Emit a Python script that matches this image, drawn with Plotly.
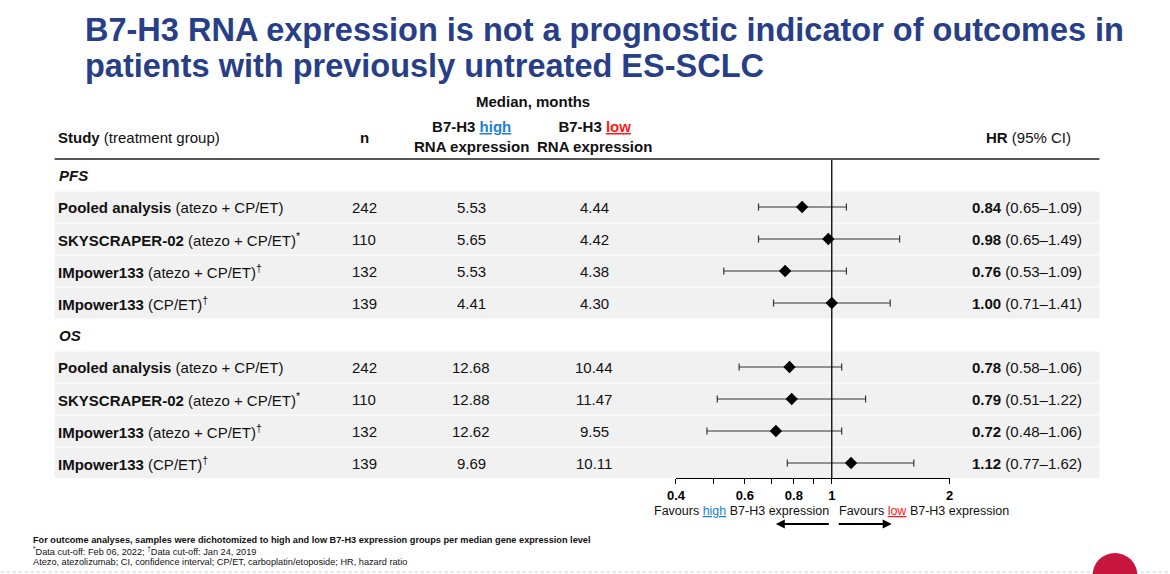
import numpy as np
import plotly.graph_objects as go

W, H = 1170, 574

# table / forest data
studies = ["Pooled analysis", "SKYSCRAPER-02", "IMpower133", "IMpower133"]
groups = ["(atezo + CP/ET)", "(atezo + CP/ET)<sup>*</sup>",
          "(atezo + CP/ET)<sup>†</sup>", "(CP/ET)<sup>†</sup>"]
n_pts = [242, 110, 132, 139]

pfs_high = [5.53, 5.65, 5.53, 4.41]
pfs_low = [4.44, 4.42, 4.38, 4.30]
pfs_hr = [0.84, 0.98, 0.76, 1.00]
pfs_ci_lo = [0.65, 0.65, 0.53, 0.71]
pfs_ci_hi = [1.09, 1.49, 1.09, 1.41]

os_high = [12.68, 12.88, 12.62, 9.69]
os_low = [10.44, 11.47, 9.55, 10.11]
os_hr = [0.78, 0.79, 0.72, 1.12]
os_ci_lo = [0.58, 0.51, 0.48, 0.77]
os_ci_hi = [1.06, 1.22, 1.06, 1.62]

tick_vals = [0.4, 0.6, 0.8, 1, 2]
tick_text = ["<b>0.4</b>", "<b>0.6</b>", "<b>0.8</b>", "<b>1</b>", "<b>2</b>"]
minor_vals = [0.5, 0.7, 0.9]

sections = [("PFS", pfs_high, pfs_low, pfs_hr, pfs_ci_lo, pfs_ci_hi),
            ("OS", os_high, os_low, os_hr, os_ci_lo, os_ci_hi)]

FONT = "Arial, 'Liberation Sans', sans-serif"
NAVY = "#283f88"
BLUE = "#1f7fd4"
RED = "#ff1a1a"

# the screenshot comes out slightly squeezed / shifted sideways, undo that
OX, SX = 8.3, 0.99


def px(x):
    return (x - OX) / SX / W


def py(y):
    return 1 - y / H


# row geometry (pixels) -> y axis in row units
row0_px, row_step = 175, 32
axis_px = 478
y_bottom = (axis_px - row0_px) / row_step
y_top = (0 - row0_px) / row_step

fig = go.Figure()
shapes = []
ann = []


def text(x, y, s, size=15, anchor="left", yref="y", color="#111", **kw):
    ann.append(dict(x=x, y=y, xref="paper", yref=yref, text=s, showarrow=False,
                    xanchor=anchor, yanchor="middle",
                    font=dict(family=FONT, size=size, color=color), **kw))


row = 0
for name, hi_m, lo_m, hr, ci_lo, ci_hi in sections:
    text(px(56), row, "<b><i>%s</i></b>" % name)
    rows = []
    for i in range(len(studies)):
        row += 1
        rows.append(row)
        shapes.append(dict(type="rect", xref="paper", yref="y", layer="below",
                           x0=px(54), x1=px(1100), y0=row - 0.485, y1=row + 0.485,
                           fillcolor="#f1f1f1", line=dict(width=0)))
        text(px(55), row, "<b>%s</b> %s" % (studies[i], groups[i]))
        text(px(364), row, str(n_pts[i]), anchor="center")
        text(px(471), row, "%.2f" % hi_m[i], anchor="center")
        text(px(594), row, "%.2f" % lo_m[i], anchor="center")
        text(px(1085), row, "<b>%.2f</b> (%.2f–%.2f)" % (hr[i], ci_lo[i], ci_hi[i]),
             anchor="right")
    fig.add_trace(go.Scatter(
        x=hr, y=rows, mode="markers",
        marker=dict(symbol="diamond", size=9.5, color="black"),
        error_x=dict(type="data", symmetric=False,
                     array=np.array(ci_hi) - np.array(hr),
                     arrayminus=np.array(hr) - np.array(ci_lo),
                     color="#333", thickness=1.2, width=3.5),
        showlegend=False, hoverinfo="skip"))
    row += 1

# header
text(px(533), py(102), "<b>Median, months</b>", anchor="center", yref="paper")
text(px(55), py(137), "<b>Study</b> (treatment group)", yref="paper")
text(px(364), py(137), "<b>n</b>", anchor="center", yref="paper")
text(px(471), py(136),
     "<b>B7-H3 <span style='color:%s;text-decoration:underline'>high</span></b>"
     "<br><b>RNA expression</b>" % BLUE, anchor="center", yref="paper")
text(px(594), py(136),
     "<b>B7-H3 <span style='color:%s;text-decoration:underline'>low</span></b>"
     "<br><b>RNA expression</b>" % RED, anchor="center", yref="paper")
text(px(1029), py(137), "<b>HR</b> (95% CI)", anchor="center", yref="paper")

shapes.append(dict(type="line", xref="paper", yref="paper", x0=px(54), x1=px(1100),
                   y0=py(159), y1=py(159), line=dict(color="#555", width=2)))
# reference line at HR = 1
shapes.append(dict(type="line", xref="x", yref="paper", x0=1, x1=1,
                   y0=py(160), y1=py(axis_px), line=dict(color="black", width=1.3)))

# title
text(px(82), py(30), "<b>B7-H3 RNA expression is not a prognostic indicator of outcomes in</b>",
     size=32.5, yref="paper", color=NAVY)
text(px(82), py(66), "<b>patients with previously untreated ES-SCLC</b>",
     size=32.5, yref="paper", color=NAVY)

# favours labels + arrows
text(px(831), py(511),
     "Favours <span style='color:%s;text-decoration:underline'>high</span> B7-H3 expression" % BLUE,
     size=12.5, anchor="right", yref="paper")
text(px(837), py(511),
     "Favours <span style='color:%s;text-decoration:underline'>low</span> B7-H3 expression" % RED,
     size=12.5, anchor="left", yref="paper")
for tail, head in [(829, 776), (839, 892)]:
    d = 1 if head > tail else -1
    shapes.append(dict(type="line", xref="paper", yref="paper",
                       x0=px(tail), x1=px(head - d * 6), y0=py(524), y1=py(524),
                       line=dict(color="black", width=2.2)))
    shapes.append(dict(type="path", xref="paper", yref="paper",
                       path="M %f %f L %f %f L %f %f Z" % (
                           px(head), py(524), px(head - d * 9), py(519.5),
                           px(head - d * 9), py(528.5)),
                       fillcolor="black", line=dict(width=0)))

# footnotes
text(px(30), py(540), "<b>For outcome analyses, samples were dichotomized to high and low "
     "B7-H3 expression groups per median gene expression level</b>",
     size=9.2, yref="paper")
text(px(30), py(551), "<sup>*</sup>Data cut-off: Feb 06, 2022; <sup>†</sup>Data cut-off: Jan 24, 2019",
     size=9.2, yref="paper")
text(px(30), py(562), "Atezo, atezolizumab; CI, confidence interval; CP/ET, "
     "carboplatin/etoposide; HR, hazard ratio", size=9.2, yref="paper")

# slide footer decorations
shapes.append(dict(type="line", xref="paper", yref="paper", x0=px(0), x1=px(1170),
                   y0=py(572), y1=py(572), line=dict(color="#cccccc", width=1, dash="dot")))
shapes.append(dict(type="circle", xref="paper", yref="paper",
                   x0=px(1093), x1=px(1138), y0=py(553), y1=py(598),
                   fillcolor="#c8173f", line=dict(width=0)))

fig.update_layout(
    width=W, height=H, margin=dict(l=0, r=0, t=0, b=0),
    paper_bgcolor="white", plot_bgcolor="rgba(0,0,0,0)",
    shapes=shapes, annotations=ann,
    xaxis=dict(type="log", range=[np.log10(0.4), np.log10(2)],
               domain=[px(676), px(950)], tickvals=tick_vals, ticktext=tick_text,
               ticks="outside", ticklen=5, tickcolor="black", tickwidth=1,
               minor=dict(tickvals=minor_vals, ticks="outside", ticklen=5,
                          tickcolor="black", tickwidth=1, showgrid=False),
               showline=True, linecolor="black", linewidth=1, showgrid=False,
               zeroline=False, tickfont=dict(family=FONT, size=13, color="black")),
    yaxis=dict(range=[y_bottom, y_top], domain=[py(axis_px), 1], visible=False,
               showgrid=False, zeroline=False),
)

fig.write_html("out.html", config={"displayModeBar": False},
               post_script="document.body.style.margin='0';"
                           "document.body.style.overflow='hidden';")
